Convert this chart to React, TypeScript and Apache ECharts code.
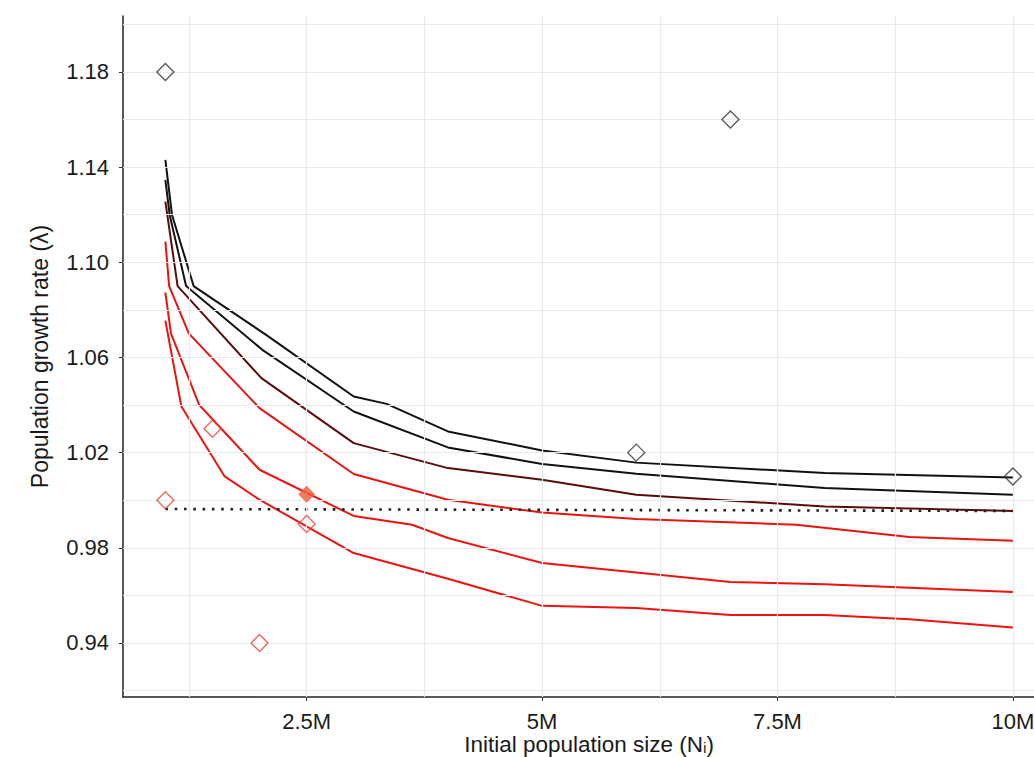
import React, { useEffect, useRef } from "react";
import * as echarts from "echarts";

const xTickValues = [2.5, 5, 7.5, 10];
const yTickValues = [0.94, 0.98, 1.02, 1.06, 1.1, 1.14, 1.18];
const xGridValues = [1.25, 2.5, 3.75, 5, 6.25, 7.5, 8.75, 10];
const yGridValues = [0.92, 0.94, 0.96, 0.98, 1.0, 1.02, 1.04, 1.06, 1.08, 1.1, 1.12, 1.14, 1.16, 1.18, 1.2];

const line1 = [[1.0, 1.143], [1.07, 1.12], [1.3, 1.09], [2.07, 1.0695], [3.0, 1.0436], [3.35, 1.0405], [4.0, 1.0289], [5.0, 1.0209], [6.0, 1.0158], [8.0, 1.0114], [10.0, 1.0095]];
const line2 = [[1.0, 1.1346], [1.045, 1.12], [1.22, 1.09], [2.03, 1.0632], [3.0, 1.0373], [4.0, 1.0222], [5.0, 1.0152], [6.0, 1.0111], [8.0, 1.0051], [10.0, 1.0023]];
const line3 = [[1.0, 1.1255], [1.13, 1.09], [2.02, 1.0513], [3.0, 1.024], [4.0, 1.0135], [5.0, 1.0086], [6.0, 1.0023], [8.0, 0.9974], [10.0, 0.9955]];
const line4 = [[1.0, 1.1087], [1.04, 1.09], [1.25, 1.07], [2.0, 1.0387], [3.0, 1.011], [4.0, 1.0002], [5.0, 0.9948], [6.0, 0.9921], [7.7, 0.9897], [8.9, 0.9845], [10.0, 0.983]];
const line5 = [[1.0, 1.0873], [1.06, 1.07], [1.36, 1.04], [2.0, 1.0128], [3.0, 0.9934], [3.62, 0.9897], [4.0, 0.9841], [5.0, 0.9736], [6.0, 0.9696], [7.0, 0.9656], [8.0, 0.9647], [10.0, 0.9614]];
const line6 = [[1.0, 1.0755], [1.17, 1.0394], [1.63, 1.01], [2.0, 1.0002], [3.0, 0.9778], [4.0, 0.967], [5.0, 0.9556], [6.0, 0.9547], [7.0, 0.9518], [8.0, 0.9518], [8.9, 0.95], [10.0, 0.9465]];
const thresholdLine = [[1.0, 0.9963], [10.0, 0.9955]];

const blackPoints = [[1, 1.18], [6, 1.02], [7, 1.16], [10, 1.01]];
const redPoints = [[1, 1.0], [1.5, 1.03], [2, 0.94], [2.5, 0.99]];
const filledPoint = [[2.5, 1.0025]];

const lineSeries = [
  { data: line1, color: "#111111" },
  { data: line2, color: "#111111" },
  { data: line3, color: "#5a0c0c" },
  { data: line4, color: "#e61410" },
  { data: line5, color: "#ec1410" },
  { data: line6, color: "#ec1410" },
];

const FONT = "'Liberation Sans', Arial, Helvetica, sans-serif";

export default function App() {
  const ref = useRef<HTMLDivElement>(null);
  useEffect(() => {
    if (!ref.current) return;
    const chart = echarts.init(ref.current, undefined, { renderer: "svg" });
    const series: any[] = [
      {
        type: "line",
        data: [],
        z: 1,
        silent: true,
        markLine: {
          silent: true,
          symbol: ["none", "none"],
          label: { show: false },
          lineStyle: { color: "#e8ebeb", width: 1.2, type: "solid" },
          data: [
            ...yGridValues.map((v) => ({ yAxis: v })),
            ...xGridValues.map((v) => ({ xAxis: v })),
          ],
        },
      },
      ...lineSeries.map((s) => ({
        type: "line",
        data: s.data,
        showSymbol: false,
        symbol: "none",
        z: 3,
        lineStyle: { color: s.color, width: 2 },
      })),
      {
        type: "line",
        data: thresholdLine,
        showSymbol: false,
        symbol: "none",
        z: 4,
        lineStyle: { color: "#222222", width: 2.6, type: [2.6, 6.7] },
      },
      {
        type: "scatter",
        data: blackPoints,
        symbol: "diamond",
        symbolSize: 17,
        z: 5,
        itemStyle: { color: "rgba(0,0,0,0)", borderColor: "#333333", borderWidth: 1.4 },
      },
      {
        type: "scatter",
        data: redPoints,
        symbol: "diamond",
        symbolSize: 17,
        z: 5,
        itemStyle: { color: "rgba(0,0,0,0)", borderColor: "#e2473f", borderWidth: 1.4 },
      },
      {
        type: "scatter",
        data: filledPoint,
        symbol: "diamond",
        symbolSize: 17,
        z: 6,
        itemStyle: { color: "#f25a36" },
      },
    ];
    chart.setOption({
      animation: false,
      backgroundColor: "#ffffff",
      grid: { left: 123, top: 16, width: 932.3, height: 681, containLabel: false, outerBoundsMode: "none" },
      xAxis: {
        type: "value",
        min: 0.55,
        max: 10.45,
        splitLine: { show: false },
        axisLine: { show: true, onZero: false, lineStyle: { color: "#222222", width: 1.5 } },
        axisTick: { show: true, customValues: xTickValues, length: 4, lineStyle: { color: "#333333", width: 1 } },
        axisLabel: {
          customValues: xTickValues,
          formatter: (v: number) => v + "M",
          fontSize: 22,
          lineHeight: 22,
          color: "#1a1a1a",
          margin: 13,
          fontFamily: FONT,
        },
        name: "Initial population size (Nᵢ)",
        nameLocation: "middle",
        nameGap: 36,
        nameMoveOverlap: false,
        nameTextStyle: { fontSize: 22.5, lineHeight: 22, color: "#1a1a1a", fontFamily: FONT },
      },
      yAxis: {
        type: "value",
        min: 0.9173,
        max: 1.2035,
        splitLine: { show: false },
        axisLine: { show: true, onZero: false, lineStyle: { color: "#222222", width: 1.5 } },
        axisTick: { show: true, customValues: yTickValues, length: 4, lineStyle: { color: "#333333", width: 1 } },
        axisLabel: {
          customValues: yTickValues,
          formatter: (v: number) => v.toFixed(2),
          fontSize: 22,
          color: "#1a1a1a",
          margin: 14,
          fontFamily: FONT,
        },
        name: "Population growth rate (λ)",
        nameLocation: "middle",
        nameGap: 72,
        nameMoveOverlap: false,
        nameTextStyle: { fontSize: 23, color: "#1a1a1a", fontFamily: FONT },
      },
      series,
    });
    return () => chart.dispose();
  }, []);
  return (
    <div style={{ position: "fixed", left: 0, top: 0, width: 1034, height: 757, overflow: "hidden", background: "#fff" }}>
      <div ref={ref} style={{ width: 1060, height: 757 }} />
    </div>
  );
}
